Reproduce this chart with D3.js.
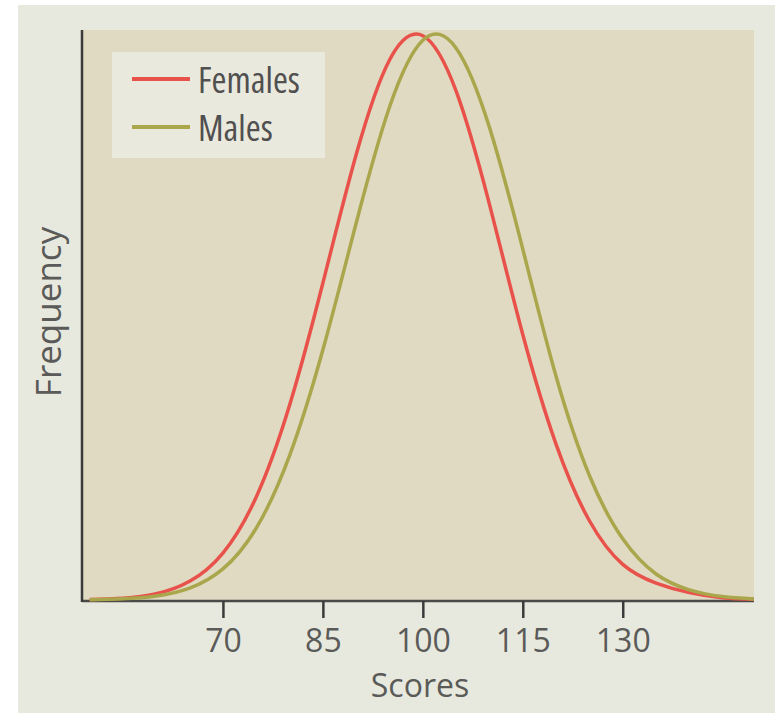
<!DOCTYPE html>
<html>
<head>
<meta charset="utf-8">
<script src="https://cdn.jsdelivr.net/npm/d3@7"></script>
<style>
  body { margin: 0; background: #fff; }
  text { font-family: "Open Sans", sans-serif; fill: #5a5a58; }
</style>
</head>
<body>
<div id="chart"></div>
<script>
// scores sampled every 5 points, frequency relative to the peak
const scores = [50, 55, 60, 65, 70, 75, 80, 85, 90, 95, 100, 105, 110, 115, 120, 125, 130, 135, 140, 145, 150];
const females = [0.001, 0.003, 0.011, 0.033, 0.083, 0.182, 0.344, 0.560, 0.787, 0.954, 0.997, 0.899, 0.699, 0.469, 0.275, 0.140, 0.063, 0.030, 0.013, 0.004, 0.001];
const males   = [0.0005, 0.002, 0.007, 0.021, 0.055, 0.127, 0.255, 0.442, 0.666, 0.871, 0.989, 0.975, 0.835, 0.620, 0.395, 0.220, 0.108, 0.046, 0.018, 0.006, 0.0015];
const tickValues = [70, 85, 100, 115, 130];
const seriesNames = ["Females", "Males"];
const seriesColors = ["#e8524a", "#a9a64c"];

const width = 775, height = 713;
const plotLeft = 82, plotRight = 754, plotTop = 30, plotBottom = 601;

const svg = d3.select("#chart").append("svg")
    .attr("width", width)
    .attr("height", height);

// paper background
svg.append("rect")
    .attr("x", 18).attr("y", 5)
    .attr("width", width - 18).attr("height", height - 5)
    .attr("fill", "#e8e9de");

// plot area
svg.append("rect")
    .attr("x", plotLeft).attr("y", plotTop)
    .attr("width", plotRight - plotLeft).attr("height", plotBottom - plotTop)
    .attr("fill", "#e1dac2");

const x = d3.scaleLinear().domain([49, 150]).range([83, 756]);
const y = d3.scaleLinear().domain([0, 1]).range([plotBottom - 1, 34]).clamp(true);

svg.append("clipPath").attr("id", "plotclip")
    .append("rect")
    .attr("x", plotLeft + 1).attr("y", plotTop - 5)
    .attr("width", plotRight - plotLeft - 1).attr("height", plotBottom - plotTop + 8);

// axis lines
svg.append("line")
    .attr("x1", plotLeft).attr("x2", plotRight)
    .attr("y1", plotBottom).attr("y2", plotBottom)
    .attr("stroke", "#4a4a48").attr("stroke-width", 2.5);
svg.append("line")
    .attr("x1", plotLeft).attr("x2", plotLeft)
    .attr("y1", plotTop).attr("y2", plotBottom + 1)
    .attr("stroke", "#3a3a3a").attr("stroke-width", 2.5);

const line = d3.line()
    .x((d, i) => x(scores[i]))
    .y(d => d)
    .curve(d3.curveNatural);

const curves = svg.append("g").attr("clip-path", "url(#plotclip)");
[females, males].forEach((vals, k) => {
    curves.append("path")
        .datum(vals.map(v => y(v)))
        .attr("d", line)
        .attr("fill", "none")
        .attr("stroke", seriesColors[k])
        .attr("stroke-width", 3.5);
});

// x axis
const xAxis = svg.append("g")
    .attr("transform", `translate(0,${plotBottom})`)
    .call(d3.axisBottom(x).tickValues(tickValues).tickSize(17).tickSizeOuter(0));
xAxis.select(".domain").remove();
xAxis.selectAll(".tick line").attr("stroke", "#3a3a3a").attr("stroke-width", 2.5);
xAxis.selectAll(".tick text")
    .attr("y", 0)
    .attr("dy", 51)
    .style("font-size", "32px")
    .style("font-family", "\"Open Sans\", sans-serif")
    .attr("fill", "#5a5a58");

// axis titles
svg.append("text")
    .attr("x", 420).attr("y", 697)
    .attr("text-anchor", "middle")
    .style("font-size", "32px")
    .text("Scores");

svg.append("text")
    .attr("transform", "translate(61,312) rotate(-90)")
    .attr("text-anchor", "middle")
    .style("font-size", "35px")
    .text("Frequency");

// legend
const legend = svg.append("g");
legend.append("rect")
    .attr("x", 112).attr("y", 52)
    .attr("width", 213).attr("height", 106)
    .attr("fill", "#eae9dd");

seriesNames.forEach((name, i) => {
    const ly = 79 + i * 48;
    legend.append("line")
        .attr("x1", 132).attr("x2", 190)
        .attr("y1", ly).attr("y2", ly)
        .attr("stroke", seriesColors[i])
        .attr("stroke-width", 4);
    legend.append("text")
        .attr("x", 198).attr("y", ly + 14)
        .style("font-size", "36px")
        .style("font-stretch", "semi-condensed")
        .style("fill", "#505050")
        .text(name);
});
</script>
</body>
</html>
